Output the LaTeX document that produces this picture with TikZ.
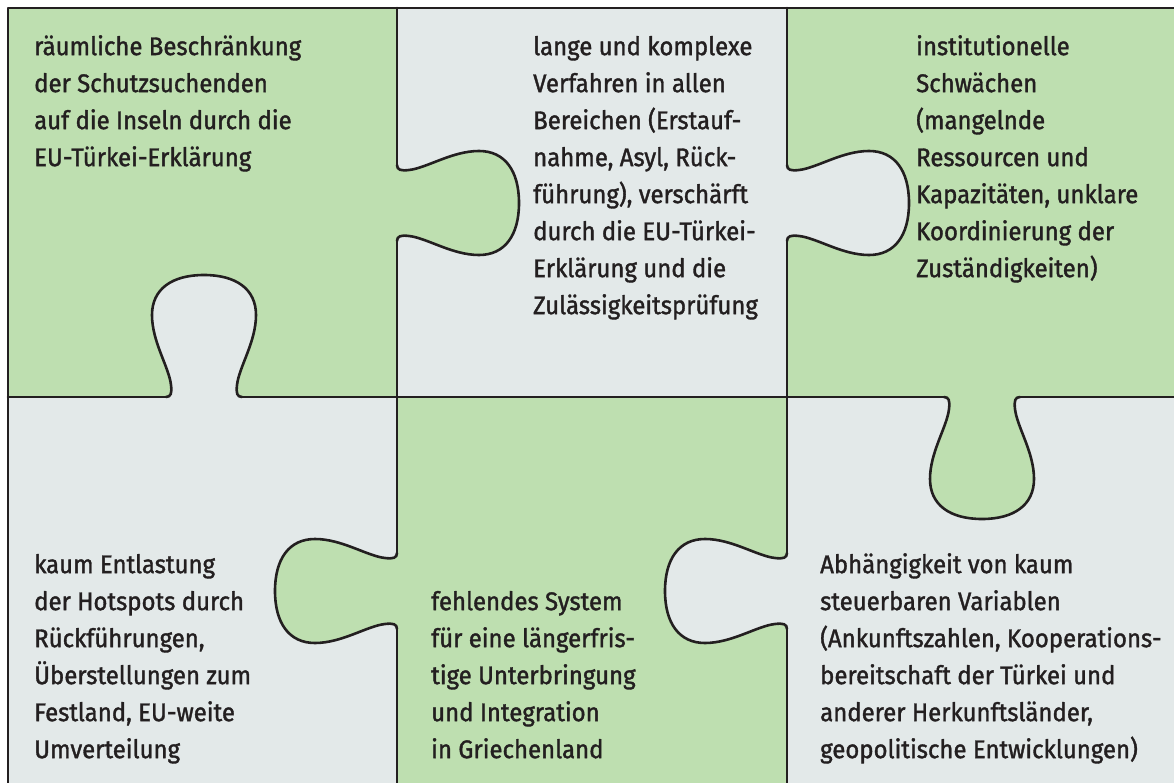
\documentclass[tikz,border=0pt]{standalone}
\usepackage{fontspec}
\setmainfont{Fira Sans}[FakeStretch=0.94, FakeBold=1.4]
\definecolor{leaf}{HTML}{BEDFB0}
\definecolor{mist}{HTML}{E3E9E9}
\definecolor{ink}{HTML}{231F20}
\newcommand{\piecefont}{\fontsize{25.5}{37}\selectfont}

\begin{document}
\begin{tikzpicture}[x=1pt,y=-1pt]

\tikzstyle cut=[draw=ink, line width=2.6pt, line cap=round, line join=round]
\tikzstyle words=[anchor=north west, inner sep=0pt, align=left, font=\piecefont, text=ink]
\tikzset{tab/.pic={
  \path[pic actions] (-38,0) .. controls (-33,0) and (-32,4) .. (-33,12)
    .. controls (-35,30) and (-52,55) .. (-52,82)
    .. controls (-52,108) and (-32,122) .. (0,122)
    .. controls (32,122) and (52,108) .. (52,82)
    .. controls (52,55) and (35,30) .. (33,12)
    .. controls (32,4) and (33,0) .. (38,0);
}}

\useasboundingbox (0,0) rectangle (1174,783);

% the six pieces
\fill[leaf] (8,8) rectangle (397,397);
\fill[mist] (397,8) rectangle (787,397);
\fill[leaf] (787,8) rectangle (1174,397);
\fill[mist] (8,397) rectangle (397,783);
\fill[leaf] (397,397) rectangle (787,783);
\fill[mist] (787,397) rectangle (1174,783);

% knobs
\foreach \px/\py/\turn/\col in {397/203/90/leaf, 787/203/90/mist, 204/397/180/mist,
                                982/397/0/leaf, 397/591/-90/leaf, 787/591/-90/mist}
  \pic[fill=\col, cut, rotate=\turn] at (\px,\py) {tab};

% cut lines
\draw[cut] (8,783) -- (8,8) -- (1174,8);
\draw[cut] (397,8) -- (397,165) (397,241) -- (397,553) (397,629) -- (397,783);
\draw[cut] (787,8) -- (787,165) (787,241) -- (787,553) (787,629) -- (787,783);
\draw[cut] (8,397) -- (166,397) (242,397) -- (944,397) (1020,397) -- (1174,397);

% texts
\node[words] (islands) at (34,29) {\strut räumliche Beschränkung\\der Schutzsuchenden\\auf die Inseln durch die\\EU-Türkei-Erklärung};
\node[words] (procedures) at (533,29) {\strut lange und komplexe\\Verfahren in allen\\Bereichen (Erstauf-\\nahme, Asyl, Rück-\\führung), verschärft\\durch die EU-Türkei-\\Erklärung und die\\Zulässigkeitsprüfung};
\node[words] (institutions) at (916,29) {\strut institutionelle\\Schwächen\\(mangelnde\\Ressourcen und\\Kapazitäten, unklare\\Koordinierung der\\Zuständigkeiten)};
\node[words] (relief) at (34,547) {\strut kaum Entlastung\\der Hotspots durch\\Rückführungen,\\Überstellungen zum\\Festland, EU-weite\\Umverteilung};
\node[words] (housing) at (431,584) {\strut fehlendes System\\für eine längerfris-\\tige Unterbringung\\und Integration\\in Griechenland};
\node[words] (variables) at (820,547) {\strut Abhängigkeit von kaum\\steuerbaren Variablen\\(Ankunftszahlen, Kooperations-\\bereitschaft der Türkei und\\anderer Herkunftsländer,\\geopolitische Entwicklungen)};

\end{tikzpicture}
\end{document}
